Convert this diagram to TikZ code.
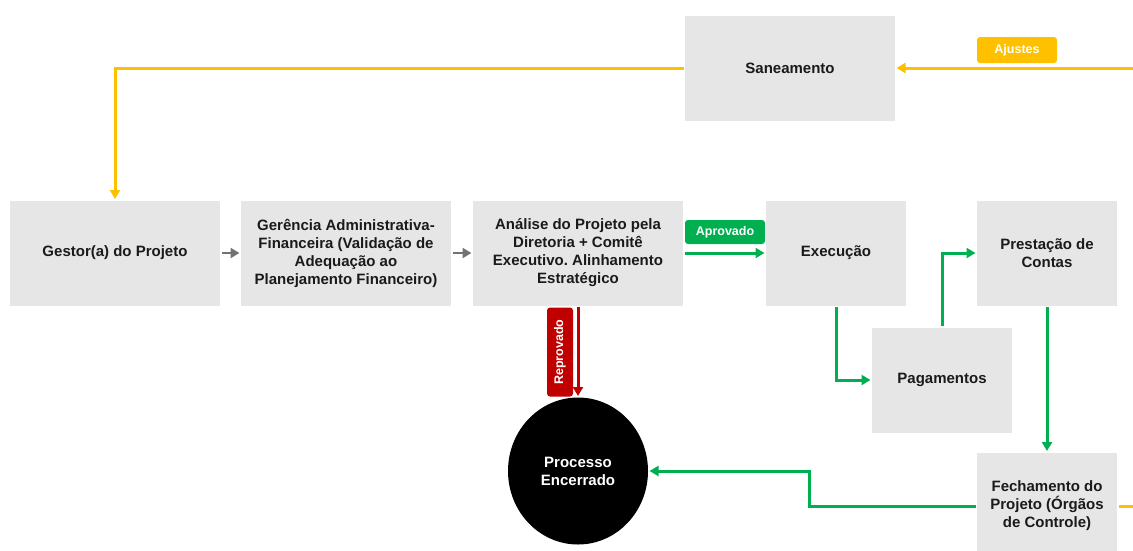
\documentclass[tikz,border=0pt]{standalone}
\usepackage{fontspec}
\setmainfont{Liberation Sans}
\usetikzlibrary{arrows.meta, shapes.geometric}
\definecolor{caixa}{HTML}{E7E6E6}
\definecolor{amarelo}{HTML}{FFC000}
\definecolor{verde}{HTML}{00B050}
\definecolor{vermelho}{HTML}{C00000}
\definecolor{cinza}{HTML}{767171}
\definecolor{texto}{HTML}{1A1A1A}
\frenchspacing

\begin{document}
\begin{tikzpicture}[
            x = 1pt, y = -1pt,
            > = {Triangle[length=9pt, width=10pt]},
            line width = 3pt,
            font = \bfseries\fontsize{15}{18}\selectfont
        ]

        \tikzstyle{etapa}=[
            fill = caixa,
            text = texto,
            minimum width = 210pt,
            minimum height = 105pt,
            align = center,
            inner sep = 1pt
        ]
        \tikzstyle{menor}=[etapa, minimum width = 140pt]
        \tikzstyle{rotulo}=[
            rounded corners = 3pt,
            text = white,
            minimum height = 25pt,
            inner sep = 2pt,
            font = \bfseries\fontsize{12.5}{14}\selectfont
        ]

        \useasboundingbox (0,0) rectangle (1133,550);

        \node[etapa] (san) at (790,68) {Saneamento};
        \node[etapa] (gest) at (115,253) {Gestor(a) do Projeto};
        \node[etapa] (ger) at (346,253) {Gerência Administrativa-\\Financeira (Validação de\\Adequação ao\\Planejamento Financeiro)};
        \node[etapa] (anal) at (578,253) {Análise do Projeto pela\\Diretoria + Comitê\\Executivo. Alinhamento\\Estratégico};
        \node[menor] (exec) at (836,253) {Execução};
        \node[menor] (prest) at (1047,253) {Prestação de\\Contas};
        \node[menor] (pag) at (942,380) {Pagamentos};
        \node[menor, minimum height = 107pt] (fech) at (1047,506) {Fechamento do\\Projeto (Órgãos\\de Controle)};
        \node[ellipse, fill = black, text = white, minimum width = 140pt,
              minimum height = 147pt, align = center] (fim) at (578,471) {Processo\\Encerrado};

        % fluxo principal
        \draw[->, cinza, line width = 2.5pt] (gest) -- (ger);
        \draw[->, cinza, line width = 2.5pt] (ger) -- (anal);
        \draw[->, verde] (anal) -- (exec);
        \draw[->, verde] (exec.south) |- (pag.west);
        \draw[->, verde] (pag.north) |- (prest.west);
        \draw[->, verde] (prest) -- (fech);
        \draw[->, verde] (fech.west) -- ++(-166,0) |- (fim.east);
        \draw[->, vermelho] (anal) -- (fim);

        % retorno
        \draw[->, amarelo] (fech.east) -- ++(30,0) |- (san.east);
        \draw[->, amarelo] (san.west) -| (gest.north);

        \node[rotulo, fill = verde, minimum width = 80pt, minimum height = 24pt] (aprov) at (725,232) {Aprovado};
        \node[rotulo, fill = amarelo, minimum width = 80pt, minimum height = 26pt] (ajust) at (1017,50) {Ajustes};
        \node[rotulo, fill = vermelho, rotate = 90, minimum width = 89pt, minimum height = 26pt] (repr) at (560,352) {Reprovado};
    \end{tikzpicture}
\end{document}
